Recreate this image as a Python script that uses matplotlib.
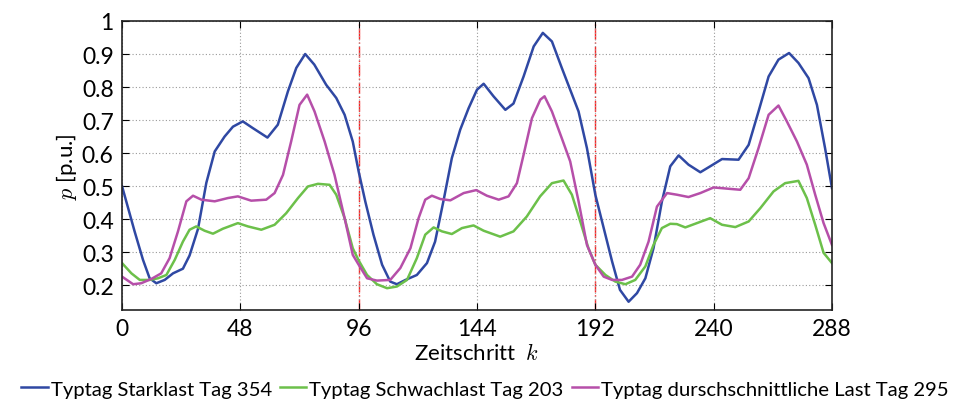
import matplotlib
matplotlib.use("Agg")
import matplotlib.pyplot as plt
from matplotlib.ticker import FormatStrFormatter

plt.rcParams['font.family'] = ['Lato', 'DejaVu Sans']
plt.rcParams['mathtext.fontset'] = 'cm'

# Typtag Starklast Tag 354
k_stark = [0, 5.1, 8.5, 11.2, 13.9, 17.3, 20.7, 24.7, 27.4, 30.8, 34.2, 37.6, 41.6, 45, 49, 53, 59,
           63.2, 67.3, 70.7, 74.3, 78, 82.8, 86.9, 90.3, 93.6, 96, 98.7, 102, 105.5, 108.8, 111.5,
           115, 119.6, 123.7, 127, 130.5, 133.8, 137.2, 140.6, 144, 146.7, 150.7, 155.5, 158.8,
           162.9, 167, 170.7, 174.4, 178.4, 181.8, 185.2, 188.6, 192, 195.4, 198.8, 202, 205.5,
           208.9, 212.3, 215.6, 219, 222.4, 225.8, 229.8, 234.6, 238.6, 243.4, 250.1, 254.2,
           258.2, 262.3, 266.3, 270.6, 274.4, 278.5, 281.9, 285.2, 288]
p_stark = [0.50, 0.363, 0.277, 0.221, 0.206, 0.216, 0.236, 0.25, 0.29, 0.37, 0.51, 0.605, 0.65, 0.68,
           0.696, 0.676, 0.647, 0.686, 0.787, 0.858, 0.90, 0.868, 0.807, 0.767, 0.716, 0.635, 0.544,
           0.453, 0.353, 0.262, 0.211, 0.203, 0.216, 0.231, 0.267, 0.332, 0.459, 0.585, 0.671,
           0.736, 0.792, 0.81, 0.772, 0.731, 0.75, 0.832, 0.923, 0.964, 0.938, 0.858, 0.792,
           0.726, 0.615, 0.474, 0.373, 0.272, 0.186, 0.15, 0.176, 0.221, 0.312, 0.453, 0.56,
           0.593, 0.565, 0.542, 0.56, 0.582, 0.58, 0.625, 0.726, 0.832, 0.883, 0.903, 0.873,
           0.827, 0.746, 0.615, 0.494]

# Typtag Schwachlast Tag 203
k_schwach = [0, 3.8, 7.2, 11.2, 14.6, 18, 21.4, 24.7, 27.4, 30.1, 33.5, 36.9, 40.9, 47, 51.1, 56.5,
             61.9, 66.6, 71.4, 75.4, 79.5, 84.2, 86.9, 90.3, 93.6, 96, 99.4, 103.4, 107.5, 111.5,
             115.6, 119.6, 123, 126.4, 129.8, 133.8, 137.9, 142.6, 146.7, 153.4, 158.8, 164.2,
             169.6, 174.4, 179.1, 182.5, 185.9, 189.2, 192, 196.1, 200.1, 204.2, 208.2, 212.3,
             215.6, 219, 222.4, 225.1, 228.5, 233.2, 238.6, 243.4, 248.8, 254.2, 258.9, 264.3,
             269, 274.4, 277.8, 281.2, 284.6, 288]
p_schwach = [0.267, 0.236, 0.216, 0.216, 0.221, 0.231, 0.277, 0.332, 0.368, 0.378, 0.365, 0.356,
             0.371, 0.388, 0.378, 0.368, 0.383, 0.418, 0.464, 0.499, 0.507, 0.504, 0.474, 0.403,
             0.312, 0.275, 0.231, 0.203, 0.191, 0.196, 0.216, 0.282, 0.353, 0.375, 0.363, 0.355,
             0.373, 0.381, 0.365, 0.347, 0.363, 0.408, 0.469, 0.509, 0.517, 0.474, 0.393, 0.312,
             0.262, 0.231, 0.211, 0.203, 0.216, 0.257, 0.322, 0.373, 0.386, 0.385, 0.375, 0.388,
             0.403, 0.383, 0.376, 0.393, 0.433, 0.484, 0.509, 0.516, 0.464, 0.383, 0.298, 0.267]

# Typtag durchschnittliche Last Tag 295
k_mittel = [0, 4.5, 7.8, 11.9, 15.9, 19.3, 22.7, 26.1, 28.8, 32.2, 37.6, 43, 47, 52.4, 58.5, 61.9,
            65.3, 68.6, 72, 75.1, 78.1, 82.2, 86.2, 90.3, 93.6, 96, 99.4, 103.4, 108.8, 112.9, 117,
            120.3, 123, 125.7, 129.1, 133.2, 138.6, 143.7, 148, 152.8, 156.8, 160.2, 162.9, 166.3,
            169.7, 171.4, 174.4, 178.4, 181.8, 185.2, 188.6, 192, 195.4, 198.8, 202.8, 206.9,
            210.2, 213.6, 217, 221.1, 225.1, 229.8, 234.6, 240, 246.1, 250.8, 254.2, 258.2, 262.3,
            266.3, 269.7, 273.8, 277.8, 281.2, 284.6, 288]
p_mittel = [0.226, 0.203, 0.206, 0.219, 0.236, 0.282, 0.363, 0.454, 0.471, 0.459, 0.454, 0.464,
            0.469, 0.456, 0.459, 0.479, 0.534, 0.635, 0.746, 0.777, 0.726, 0.635, 0.534, 0.403,
            0.292, 0.262, 0.221, 0.214, 0.216, 0.252, 0.312, 0.403, 0.459, 0.471, 0.461, 0.457,
            0.479, 0.488, 0.471, 0.459, 0.469, 0.509, 0.595, 0.706, 0.762, 0.772, 0.726, 0.645,
            0.575, 0.454, 0.322, 0.262, 0.226, 0.216, 0.216, 0.226, 0.262, 0.332, 0.438, 0.479,
            0.474, 0.467, 0.479, 0.496, 0.492, 0.489, 0.524, 0.615, 0.716, 0.744, 0.696, 0.635,
            0.565, 0.474, 0.388, 0.322]

day_bounds = [96, 192]
x_ticks = [0, 48, 96, 144, 192, 240, 288]
y_ticks = [0.2, 0.3, 0.4, 0.5, 0.6, 0.7, 0.8, 0.9, 1.0]

fig = plt.figure(figsize=(9.7, 4.02), dpi=100)
ax = fig.add_axes([0.1258, 0.2264, 0.7319, 0.7189])

ax.plot(k_stark, p_stark, color='#2f48a3', lw=1.8, label='Typtag Starklast Tag 354')
ax.plot(k_schwach, p_schwach, color='#6cc04a', lw=1.8, label='Typtag Schwachlast Tag 203')
ax.plot(k_mittel, p_mittel, color='#b64fa9', lw=1.8, label='Typtag durschschnittliche Last Tag 295')

for b in day_bounds:
    ax.axvline(b, color='#ff2020', lw=1.0, ls=(0, (8, 2, 1, 2)), zorder=1)

ax.set_xlim(0, 288)
ax.set_ylim(0.125, 1.0)
ax.set_xticks(x_ticks)
ax.set_yticks(y_ticks)
ax.yaxis.set_major_formatter(FormatStrFormatter('%g'))
ax.grid(True, color='#999999', ls=(0, (1, 2)), lw=0.8)
ax.tick_params(direction='in', top=True, right=True, labelsize=16.5, length=5, pad=6)
for s in ax.spines.values():
    s.set_linewidth(1.2)
    s.set_color('#222222')

ax.set_xlabel('Zeitschritt  $k$', fontsize=16, labelpad=2)
ax.set_ylabel('$p$ [p.u.]', fontsize=16, labelpad=2)

fig.legend(loc='center', bbox_to_anchor=(0.5, 0.03), ncol=3, frameon=False, fontsize=14.6,
           handlelength=1.3, handletextpad=0.15, columnspacing=0.4, borderaxespad=0)

fig.savefig('out.png', dpi=100)
